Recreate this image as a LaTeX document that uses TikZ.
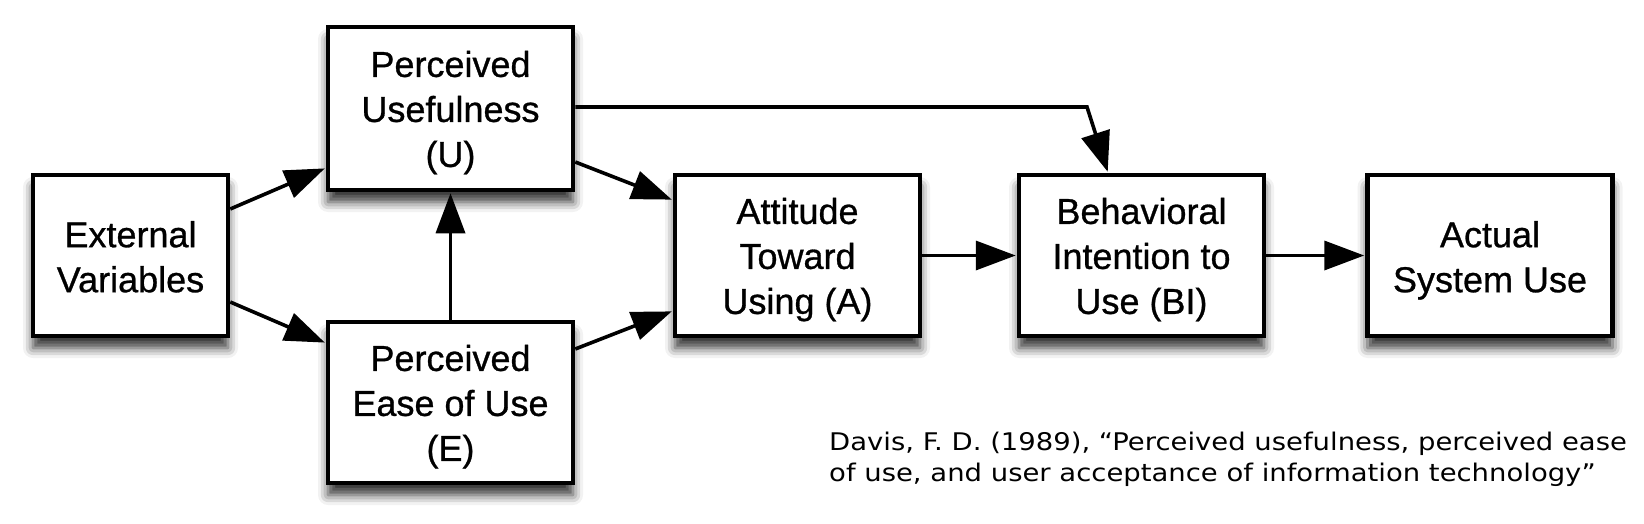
\documentclass[tikz,border=0pt]{standalone}
\usepackage{fontspec}
\newfontfamily\boxfont[FakeBold=0.8]{Liberation Sans}
\newfontfamily\citefont[FakeStretch=1.13]{DejaVu Sans}
\newcommand\topstrut{\rule{0pt}{30pt}}
\usetikzlibrary{arrows.meta,shadows.blur}
\tikzset{
  box/.style={draw=black, line width=4.5pt, fill=white, inner sep=0pt,
    minimum width=245pt, minimum height=161pt,
    blur shadow={shadow xshift=0pt, shadow yshift=-12pt, shadow blur radius=10pt,
      shadow opacity=80}},
  lbl/.style={anchor=north, inner sep=0pt, align=center,
    font={\boxfont\fontsize{36}{45}\selectfont}},
  conn/.style={line width=3.6pt, -{Triangle[length=40pt,width=29pt]}, shorten >=1pt},
}
\begin{document}
\begin{tikzpicture}[x=1pt,y=-1pt]
\useasboundingbox (0,0) rectangle (1644,524);
\node[box, minimum width=195pt] (ext) at (130.5,255.5) {};
\node[box, minimum height=163pt] (pu) at (450.5,108.5) {};
\node[box] (peou) at (450.5,402.5) {};
\node[box] (att) at (797.5,255.5) {};
\node[box] (bi) at (1141.5,255.5) {};
\node[box] (act) at (1490,255.5) {};
\node[lbl] (ext-t) at ([yshift=38.5pt]ext.center) {\topstrut External\\Variables};
\node[lbl] (pu-t) at ([yshift=61.8pt]pu.center) {\topstrut Perceived\\Usefulness\\(U)};
\node[lbl] (peou-t) at ([yshift=61.8pt]peou.center) {\topstrut Perceived\\Ease of Use\\(E)};
\node[lbl] (att-t) at ([yshift=61.8pt]att.center) {\topstrut Attitude\\Toward\\Using (A)};
\node[lbl] (bi-t) at ([yshift=61.8pt]bi.center) {\topstrut Behavioral\\Intention to\\Use (BI)};
\node[lbl] (act-t) at ([yshift=38.5pt]act.center) {\topstrut Actual\\System Use};
\coordinate (bend) at (1087,107);
\draw[conn] ([yshift=46.5pt]ext.east) -- ([yshift=-59.5pt]pu.west);
\draw[conn] ([yshift=-46.5pt]ext.east) -- ([yshift=59.5pt]peou.west);
\draw[conn] (peou.north) -- (pu.south);
\draw[conn] ([yshift=-53.5pt]pu.east) -- ([yshift=55.5pt]att.west);
\draw[conn] ([yshift=53.5pt]peou.east) -- ([yshift=-55.5pt]att.west);
\draw[conn, line join=miter] ([yshift=1.5pt]pu.east) -- (bend) -- ([xshift=-33.5pt]bi.north);
\draw[conn] (att.east) -- (bi.west);
\draw[conn] (bi.east) -- (act.west);
\node[anchor=base west, align=left, inner sep=0pt,
  font={\citefont\fontsize{24.3}{30.7}\selectfont}] (cite) at (829,481)
  {Davis, F. D. (1989), “Perceived usefulness, perceived ease\\of use, and user acceptance of information technology”};
\end{tikzpicture}
\end{document}
